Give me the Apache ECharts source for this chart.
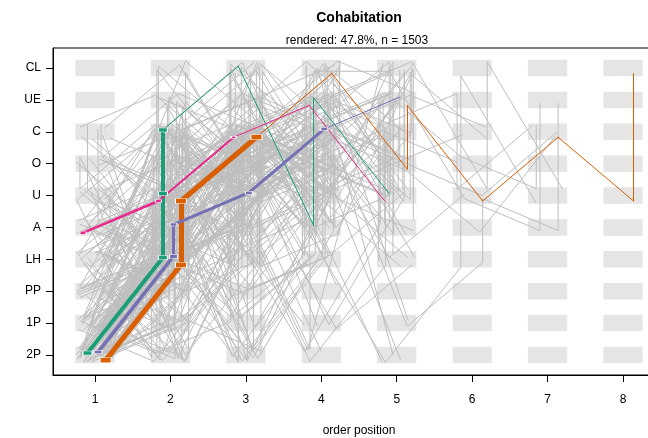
<!DOCTYPE html>
<html>
<head>
<meta charset="utf-8">
<title>Cohabitation</title>
<script src="https://cdn.jsdelivr.net/npm/echarts@6/dist/echarts.min.js"></script>
<style>
html, body { margin: 0; padding: 0; background: #fff; }
#chart { width: 648px; height: 438px; }
</style>
</head>
<body>
<div id="chart"></div>
<script>
// states from bottom to top, order positions on x
var states = ['2P', '1P', 'PP', 'LH', 'A', 'U', 'O', 'C', 'UE', 'CL'];
var positions = [1, 2, 3, 4, 5, 6, 7, 8];

// frequent patterns (highlighted), "pos-state" steps, weight per segment, place in cell
var greenSeq = '1-2P 2-LH 2-U 2-C 3-CL 4-A 4-UE 5-U';
var greenWeight = [4, 4, 4, 1, 1, 1, 1];
var greenJit = [-0.10, 0.06];

var orangeSeq = '1-2P 2-LH 2-U 3-C 4-CL 5-O 5-UE 6-U 7-C 8-U 8-CL';
var orangeWeight = [5, 5, 5, 1, 1, 1, 1, 1, 1, 1];
var orangeJit = [0.14, -0.17];

var purpleSeq = '1-2P 2-LH 2-A 3-U 4-C 5-UE';
var purpleWeight = [3.5, 3, 3, 3, 1];
var purpleJit = [0.04, 0.09];

var pinkSeq = '1-A 2-U 3-C 4-UE 5-U';
var pinkWeight = [2.5, 2, 1, 1];
var pinkJit = [-0.16, -0.17];

// other sequences (grey), with their place inside the cells
var greySeqs = [
  ['1-2P 2-LH 2-U 2-O 3-C', -0.22, 0.20],
  ['1-2P 2-LH 2-C 3-U 3-O', 0.20, 0.18],
  ['1-2P 2-1P 3-LH 3-C 4-U', -0.05, -0.22],
  ['1-2P 2-U 3-LH 4-C', 0.08, 0.22],
  ['1-2P 2-LH 3-A 3-O 4-C 4-UE', -0.15, -0.05],
  ['1-2P 2-PP 2-LH 3-U 4-CL', 0.22, -0.08],
  ['1-2P 2-A 3-U 3-C 4-UE', -0.12, 0.12],
  ['1-2P 2-O 3-C 4-U', 0.15, 0.05],
  ['1-2P 2-C 3-LH 3-U 4-O', -0.20, -0.12],
  ['1-2P 2-LH 3-2P 4-LH 4-C', 0.02, 0.15],
  ['1-1P 2-2P 2-LH 3-U 3-C', -0.18, 0.05],
  ['1-1P 2-LH 2-U 3-C 4-O', 0.20, -0.15],
  ['1-1P 2-A 3-2P 3-LH 4-U', 0.10, 0.22],
  ['1-1P 2-U 3-C 4-1P', -0.05, -0.10],
  ['1-1P 2-O 2-C 3-UE 4-CL', 0.18, 0.10],
  ['1-1P 2-2P 3-LH 3-A 4-C', -0.22, -0.20],
  ['1-1P 2-LH 3-PP 4-LH 4-U 5-C', 0.05, 0.05],
  ['1-1P 2-C 3-U 4-2P 4-LH', -0.15, 0.18],
  ['1-PP 2-LH 2-A 3-C 3-UE', 0.22, 0.20],
  ['1-PP 2-2P 3-LH 3-O', -0.10, -0.18],
  ['1-PP 2-U 3-O 3-C 4-A', 0.12, -0.05],
  ['1-PP 2-LH 3-U 4-C 4-CL', -0.20, 0.10],
  ['1-PP 2-1P 2-LH 3-C 4-U 5-LH', 0.05, -0.22],
  ['1-PP 2-C 3-A 4-O', 0.20, 0.05],
  ['1-PP 2-A 2-U 3-1P 4-LH', -0.08, 0.15],
  ['1-LH 2-U 2-C 3-O', 0.15, -0.12],
  ['1-LH 2-2P 3-1P 3-LH 4-U', -0.20, 0.05],
  ['1-LH 2-A 3-C 4-U 5-O', 0.00, 0.20],
  ['1-LH 2-O 3-U 3-C 4-UE', 0.22, -0.20],
  ['1-LH 2-1P 3-U 4-C', -0.12, -0.10],
  ['1-LH 2-C 3-2P 3-LH', 0.10, 0.10],
  ['1-LH 2-U 3-LH 4-A 4-C', -0.25, 0.18],
  ['1-LH 2-PP 2-U 3-C 3-CL', 0.18, 0.02],
  ['1-2P 2-1P 2-U 3-C', -0.02, -0.05],
  ['1-2P 2-PP 3-U 4-C 5-O', 0.12, -0.20],
  ['1-2P 2-LH 2-UE 3-C', -0.18, 0.10],
  ['1-1P 2-LH 2-O 3-U 4-2P', 0.00, 0.12],
  ['1-2P 2-LH 3-C 4-PP', 0.20, 0.20],
  ['1-1P 2-PP 3-LH 4-C 5-UE', -0.10, 0.20],
  ['1-PP 2-LH 3-2P 4-U', 0.10, -0.10],
  ['1-A 2-LH 3-U 3-C', -0.20, 0.10],
  ['1-A 2-2P 2-LH 3-C', 0.15, -0.15],
  ['1-A 2-U 3-O 4-C', 0.05, 0.20],
  ['1-A 2-C 3-LH 4-U', -0.12, -0.05],
  ['1-A 2-1P 3-U 3-UE', 0.22, 0.05],
  ['1-U 2-LH 2-C 3-O', -0.15, 0.20],
  ['1-U 2-A 3-C 4-CL', 0.18, -0.20],
  ['1-U 2-2P 3-LH 3-U 4-C', -0.05, 0.08],
  ['1-U 2-O 3-2P 4-LH', 0.10, 0.15],
  ['1-U 2-C 3-U 4-UE', -0.22, -0.10],
  ['1-O 2-U 3-C 4-O', 0.20, 0.10],
  ['1-O 2-LH 3-2P 3-LH', -0.10, -0.20],
  ['1-O 2-C 3-A 4-U', 0.05, -0.05],
  ['1-O 2-1P 3-LH 4-C', -0.20, 0.22],
  ['1-C 1-U 2-LH 3-C', -0.10, 0.20],
  ['1-C 2-CL 3-U 4-C', 0.12, 0.10],
  ['1-C 2-U 3-PP 4-LH', -0.18, -0.15],
  ['1-C 2-2P 3-U', 0.10, -0.10],
  ['1-C 2-UE 3-O 4-U', -0.20, 0.15],
  ['1-C 1-O 2-A 3-C', 0.08, 0.24],
  ['1-U 1-A 2-2P 3-LH 4-C', 0.20, 0.00],
  ['1-O 2-UE 3-C 4-LH', 0.10, 0.20],
  ['1-A 2-O 3-UE 4-C 5-U', -0.05, 0.20],
  ['1-U 2-PP 3-LH 3-C', 0.15, -0.05],
  ['1-O 2-A 3-1P 4-LH 4-U', -0.25, 0.05],
  ['1-2P 2-LH 3-U 3-C 4-UE 5-C', 0.20, -0.05],
  ['1-2P 2-LH 2-U 3-C 4-O 4-CL', -0.20, 0.05],
  ['1-1P 2-LH 3-A 4-C 4-CL 5-U', 0.05, 0.15],
  ['1-LH 2-U 3-O 4-C 5-CL 5-A', -0.10, 0.20],
  ['1-2P 2-1P 3-LH 4-U 4-C 5-O', 0.18, 0.12],
  ['1-PP 2-LH 3-C 3-CL 4-U 5-C', -0.22, -0.12],
  ['1-A 2-U 3-C 4-O 4-UE 5-U', 0.10, -0.20],
  ['1-2P 2-LH 3-O 4-A 4-C 5-UE', -0.05, 0.22],
  ['1-1P 2-U 2-C 3-CL 4-O', 0.22, 0.10],
  ['1-2P 2-A 3-LH 3-C 4-UE 4-CL', -0.15, -0.20],
  ['1-LH 2-C 3-UE 4-U 5-LH', 0.15, 0.05],
  ['1-U 2-LH 3-U 3-CL 4-C', -0.20, 0.12],
  ['1-2P 2-LH 3-C 4-A 5-2P 6-LH 6-CL 7-U', -0.15, -0.24],
  ['1-PP 2-U 3-O 4-C 5-1P 6-LH 6-U 7-A 7-UE', 0.14, -0.10],
  ['1-2P 2-LH 3-A 4-U 4-CL 5-CL 6-U 7-A 7-UE', -0.10, -0.10],
  ['1-1P 2-LH 3-U 4-C 5-O 6-U 7-C', 0.13, 0.00],
  ['1-2P 2-U 3-C 4-UE 5-CL 6-U 6-CL 7-U', 0.20, 0.20],
  ['1-LH 2-A 3-C 4-CL 5-C 6-UE 6-U 7-C', -0.20, 0.20],
  ['1-2P 2-LH 3-U 4-O 5-CL 5-O 6-A 7-C', 0.10, -0.15],
  ['1-A 2-C 3-U 4-C 5-UE 6-O 7-U 7-C', -0.15, 0.22],
  ['1-1P 2-LH 3-U 4-2P 5-LH 5-C', -0.15, -0.20],
  ['1-2P 2-U 3-O 4-1P 5-U 5-CL', 0.10, -0.05],
  ['1-LH 2-C 3-A 4-2P 5-A 5-UE', -0.22, 0.10],
  ['1-PP 2-LH 3-C 4-U 5-2P', -0.20, -0.20],
  ['1-2P 2-LH 3-O 4-UE 5-1P', 0.15, 0.10],
  ['1-1P 2-C 3-U 4-CL 5-2P', -0.05, 0.00],
  ['1-2P 2-LH 2-C 3-O 3-CL 4-U 5-A', 0.22, -0.10],
  ['1-U 2-LH 3-C 4-U 4-C 5-O', 0.05, 0.20],
  ['1-2P 2-PP 3-C 4-O 5-U 5-C', -0.12, 0.00],
  ['1-LH 2-U 3-CL 4-C 5-UE 6-C', 0.18, 0.15],
  ['1-2P 2-LH 3-U 3-O 4-C 4-UE 5-CL', -0.08, -0.15],
  ['1-O 2-U 3-C 4-LH 5-U', 0.10, 0.10],
  ['1-1P 2-LH 2-A 3-U 4-O 5-C 6-O', -0.20, 0.05],
  ['1-2P 2-U 3-LH 4-A 5-CL 6-C', 0.20, -0.22],
  ['1-2P 2-LH 3-PP 4-U 5-UE', 0.00, -0.10],
  ['1-LH 2-2P 3-C 4-UE 4-C 5-LH 6-U', -0.10, 0.05],
  ['1-A 2-LH 3-O 4-CL 5-C', 0.15, -0.10],
  ['1-2P 2-C 3-U 4-2P 5-CL', -0.18, 0.15],
  ['1-1P 2-A 3-C 4-O 5-2P', 0.05, -0.15],
  ['1-2P 2-LH 3-C 4-CL 5-UE 5-A', 0.22, 0.22],
  ['1-PP 2-C 3-CL 4-A 5-CL 5-LH', -0.05, 0.18],
  ['1-2P 2-LH 3-C', -0.25, 0.00],
  ['1-2P 2-LH 3-U', 0.25, 0.10],
  ['1-2P 2-LH 2-O', 0.10, -0.20],
  ['1-1P 2-LH 3-O', -0.10, 0.10],
  ['1-2P 2-U 2-C 3-CL', 0.12, 0.20],
  ['1-PP 2-O 3-LH', -0.20, 0.15],
  ['1-LH 2-CL 3-C', 0.20, 0.22],
  ['1-2P 2-A 3-O', 0.05, -0.15],
  ['1-1P 2-U 3-A 3-C', -0.15, 0.00],
  ['1-LH 2-1P 3-2P 3-U', 0.20, 0.12],
  ['1-2P 2-PP 3-C', -0.05, 0.18],
  ['1-PP 2-C 3-LH 3-U', 0.18, -0.18],
  ['1-A 2-U 3-2P', -0.22, 0.22],
  ['1-U 2-C 3-1P 4-U', 0.12, -0.12],
  ['1-O 2-LH 3-C', 0.22, 0.18],
  ['1-2P 2-1P 3-O', -0.12, -0.20],
  ['1-1P 2-2P 3-U', 0.05, 0.05],
  ['1-2P 2-UE 3-U 4-C', 0.20, -0.05],
  ['1-LH 2-U 3-2P 4-LH', -0.05, -0.20],
  ['1-PP 2-A 3-C 4-UE', 0.22, 0.05],
  ['1-2P 2-LH 3-1P 4-U', -0.20, 0.20],
  ['1-1P 2-LH 3-CL', 0.15, 0.20],
  ['1-U 2-2P 2-LH 3-C', -0.25, -0.10],
  ['1-O 2-2P 3-U 4-O', 0.18, -0.22],
  ['1-2P 2-LH 2-U 3-PP 4-LH', 0.08, 0.08],
  ['1-1P 2-O 3-2P 4-LH', -0.18, -0.05],
  ['1-A 2-LH 3-2P 4-U', 0.02, -0.18],
  ['1-LH 2-PP 3-U 4-C', 0.12, 0.18],
  ['1-2P 2-LH 3-A 4-1P', -0.22, -0.08],
  ['1-C 2-O 3-UE 4-C', 0.20, -0.20],
  ['1-2P 2-LH 2-CL 3-O 4-U', -0.18, -0.05],
  ['1-1P 2-2P 2-C 3-U 3-CL', 0.06, -0.12],
  ['1-PP 2-LH 2-UE 3-A 3-C 4-O', -0.02, 0.10],
  ['1-2P 2-A 2-C 3-LH 3-O 4-UE', 0.16, 0.16],
  ['1-LH 2-2P 2-U 3-O 3-CL', -0.14, -0.16],
  ['1-A 2-LH 2-O 3-U 3-UE 4-C', 0.20, 0.08],
  ['1-2P 2-LH 3-A 3-CL 4-O 4-C', -0.06, 0.04],
  ['1-1P 2-PP 2-O 3-C 4-A 4-UE', 0.12, 0.14],
  ['1-2P 2-LH 2-U 3-LH 3-C 4-U', -0.24, -0.14],
  ['1-U 2-A 2-C 3-2P 3-U 4-O', 0.02, -0.18],
  ['1-2P 2-1P 2-O 3-U 3-C 4-CL', 0.24, 0.02],
  ['1-PP 2-U 2-CL 3-C 4-LH 4-O', -0.16, 0.06],
  ['1-LH 2-A 2-UE 3-O 4-U 4-CL', 0.08, -0.06],
  ['1-2P 2-LH 3-U 3-UE 4-A 4-O', 0.18, -0.02],
  ['1-O 2-LH 2-C 3-A 3-O 4-C', -0.08, 0.18],
  ['1-1P 2-LH 2-U 3-C 4-LH 4-UE', -0.22, 0.12],
  ['1-2P 2-PP 2-A 3-C 3-UE 4-U', 0.04, 0.20],
  ['1-A 2-1P 2-U 3-LH 3-C 4-O', -0.12, 0.22],
  ['1-2P 2-LH 3-O 3-CL 4-U 4-C', 0.14, -0.08],
  ['1-C 2-U 2-UE 3-A 3-C', -0.04, -0.22],
  ['1-1P 2-A 2-CL 3-U 4-C', 0.20, -0.14],
  ['1-2P 2-LH 2-O 3-2P 3-U 4-C', -0.10, -0.24],
  ['1-LH 2-PP 2-C 3-U 3-O 4-UE', 0.02, 0.24],
  ['1-PP 2-LH 2-U 3-A 3-C 4-A', -0.24, 0.02],
  ['1-U 2-LH 2-UE 3-O 4-C 4-CL', 0.16, -0.24],
  ['1-2P 2-C 3-A 3-UE 4-O 5-U', -0.02, 0.06],
  ['1-1P 2-LH 2-C 3-LH 3-U 4-C 4-UE', 0.08, -0.18],
  ['1-2P 2-U 3-C 3-CL 4-A 4-C', -0.20, -0.02],
  ['1-A 2-2P 2-O 3-U 4-C 4-CL', 0.24, 0.18],
  ['1-2P 2-LH 3-U 4-O 4-UE 5-C 5-O', -0.14, 0.12],
  ['1-O 2-U 3-LH 3-C 4-U 5-UE', 0.06, 0.14],
  ['1-1P 2-U 3-O 4-A 4-CL 5-O', -0.06, -0.18],
  ['1-2P 2-LH 2-A 3-C 4-U 4-O 5-CL', 0.22, 0.14],
  ['1-LH 2-U 3-C 4-O 5-U 5-UE', -0.18, 0.02],
  ['1-2P 2-O 3-U 3-C 4-A 5-C', 0.10, 0.24],
  ['1-PP 2-A 3-U 4-C 5-A 5-O', -0.22, 0.16],
  ['1-2P 2-LH 3-C 4-U 4-UE 5-O 5-CL', 0.04, -0.06],
  ['1-C 1-A 2-LH 3-U', 0.04, 0.08],
  ['1-O 1-U 2-C 3-LH', -0.20, 0.22],
  ['1-2P 2-A 3-2P 4-A 4-C', 0.16, -0.12],
  ['1-1P 2-LH 3-1P 4-LH 4-O', -0.08, 0.20],
  ['1-PP 2-2P 3-U 4-1P 5-LH', 0.20, -0.18],
  ['1-2P 2-LH 3-U 4-C 5-U 5-CL', 0.18, -0.12],
  ['1-1P 2-LH 3-C 4-U 5-C 5-A', -0.16, 0.10],
  ['1-2P 2-U 3-O 4-UE 5-O 5-U', 0.08, 0.18],
  ['1-PP 2-LH 3-C 4-O 5-UE 5-LH', -0.24, -0.06],
  ['1-LH 2-U 3-C 4-A 5-C 5-CL', 0.20, 0.00],
  ['1-2P 2-LH 3-O 4-C 5-A 5-UE', -0.04, -0.20],
  ['1-1P 2-U 3-C 4-UE 5-U', 0.14, 0.22],
  ['1-2P 2-A 3-C 4-U 5-O 6-C', -0.12, -0.08],
  ['1-LH 2-C 3-U 4-CL 5-U 5-C', 0.02, 0.12],
  ['1-2P 2-LH 3-U 4-C 5-LH', 0.24, 0.06],
  ['1-PP 2-U 3-C 4-A 5-U 5-CL', -0.08, 0.02],
  ['1-2P 2-LH 2-C 3-U 4-UE 5-A', 0.12, -0.22],
  ['1-A 2-U 3-UE 4-O 5-C', -0.24, -0.18],
  ['1-1P 2-LH 3-O 4-U 5-CL 5-U', 0.22, -0.04],
  ['1-2P 2-LH 3-C 4-O 4-U', -0.16, 0.24],
  ['1-2P 2-1P 2-LH 3-C 3-U 4-O', 0.06, 0.16],
  ['1-1P 2-PP 2-U 3-O 4-C', -0.02, -0.14],
  ['1-PP 2-1P 3-U 3-C 4-U', 0.16, 0.04],
  ['1-2P 2-PP 2-U 3-C 4-A', -0.20, -0.04],
  ['1-2P 2-1P 3-C 4-U', 0.10, 0.04],
  ['1-PP 2-LH 2-C 3-A 4-C', 0.24, -0.16]
];

function parseSeq(str, dx, dy) {
  return str.split(' ').map(function (step) {
    var k = step.indexOf('-');
    var p = +step.slice(0, k);
    var s = states.indexOf(step.slice(k + 1));
    return [p + dx, s + dy];
  });
}

var greyData = greySeqs.map(function (g) {
  return { coords: parseSeq(g[0], g[1], g[2]) };
});

var cells = [];
positions.forEach(function (p) {
  states.forEach(function (s, i) { cells.push([p, i]); });
});

function patternSeries(seq, weight, jit, color) {
  var pts = parseSeq(seq, jit[0], jit[1]);
  var segs = [];
  for (var i = 0; i < pts.length - 1; i++) {
    segs.push({ coords: [pts[i], pts[i + 1]], lineStyle: { width: weight[i] } });
  }
  var caps = [];
  pts.forEach(function (pt, i) {
    var w = Math.max(i > 0 ? weight[i - 1] : 0, i < weight.length ? weight[i] : 0);
    if (w > 1) caps.push({ value: pt, symbolSize: [w * 2 + 1, w] });
  });
  return [{
    type: 'lines', coordinateSystem: 'cartesian2d', silent: true, z: 5,
    lineStyle: { color: color, opacity: 1, cap: 'round' },
    data: segs
  }, {
    type: 'scatter', silent: true, z: 6, symbol: 'rect',
    itemStyle: { color: color, borderColor: '#fff', borderWidth: 0.7, opacity: 1 },
    data: caps
  }];
}

var font = "'Liberation Sans', Arial, Helvetica, sans-serif";
var chart = echarts.init(document.getElementById('chart'));

var series = [{
  type: 'custom', silent: true, z: 1,
  renderItem: function (params, api) {
    var a = api.coord([api.value(0) - 0.26, api.value(1) + 0.26]);
    var b = api.coord([api.value(0) + 0.26, api.value(1) - 0.26]);
    return { type: 'rect', shape: { x: a[0], y: a[1], width: b[0] - a[0], height: b[1] - a[1] },
      style: { fill: '#e5e5e5' } };
  },
  data: cells
}, {
  type: 'lines', coordinateSystem: 'cartesian2d', polyline: true, silent: true, z: 2,
  lineStyle: { color: '#bebebe', width: 1, opacity: 1 },
  data: greyData
}];
series = series
  .concat(patternSeries(greenSeq, greenWeight, greenJit, '#1B9E77'))
  .concat(patternSeries(orangeSeq, orangeWeight, orangeJit, '#D95F02'))
  .concat(patternSeries(purpleSeq, purpleWeight, purpleJit, '#7570B3'))
  .concat(patternSeries(pinkSeq, pinkWeight, pinkJit, '#E7298A'));

chart.setOption({
  animation: false,
  backgroundColor: '#fff',
  textStyle: { fontFamily: font },
  title: [{
    text: 'Cohabitation', left: 359, top: 11, textAlign: 'center', padding: 0,
    textStyle: { fontFamily: font, fontSize: 14, fontWeight: 'bold', color: '#000' }
  }, {
    text: 'rendered: 47.8%, n = 1503', left: 357, top: 35, textAlign: 'center', padding: 0,
    textStyle: { fontFamily: font, fontSize: 12, fontWeight: 'normal', color: '#000' }
  }],
  grid: { left: 53, top: 48, width: 612, height: 327, show: true,
    outerBoundsMode: 'none', containLabel: false,
    borderColor: '#000', borderWidth: 1, backgroundColor: 'transparent' },
  xAxis: {
    type: 'value', min: 0.443, max: 8.557,
    name: 'order position', nameLocation: 'middle', nameGap: 50,
    nameTextStyle: { fontFamily: font, fontSize: 12, color: '#000' },
    axisLine: { show: true, onZero: false, lineStyle: { color: '#000' } },
    axisTick: { show: true, length: 7, customValues: positions, lineStyle: { color: '#000' } },
    axisLabel: { customValues: positions, margin: 19, fontFamily: font, fontSize: 12, color: '#000' },
    splitLine: { show: false }
  },
  yAxis: {
    type: 'value', min: -0.63, max: 9.63,
    axisLine: { show: true, onZero: false, lineStyle: { color: '#000' } },
    axisTick: { show: true, length: 7, customValues: states.map(function (s, i) { return i; }),
      lineStyle: { color: '#000' } },
    axisLabel: {
      customValues: states.map(function (s, i) { return i; }),
      margin: 12, fontFamily: font, fontSize: 12, color: '#000',
      formatter: function (v) { return states[Math.round(v)]; }
    },
    splitLine: { show: false }
  },
  series: series
});
</script>
</body>
</html>
